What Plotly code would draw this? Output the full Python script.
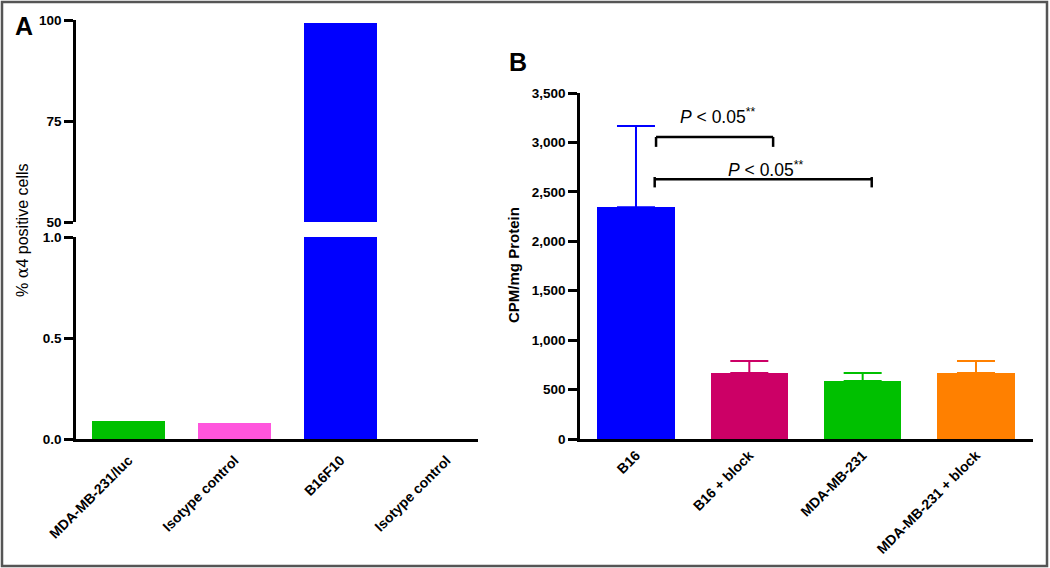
import plotly.graph_objects as go

# ---------------- data ----------------
a_categories = ["MDA-MB-231/luc", "Isotype control", "B16F10", "Isotype control "]
a_values = [0.09, 0.08, 99.2, 0.0]
a_colors = ["#00C000", "#FF55DD", "#0000FF", "#FFFFFF"]

b_categories = ["B16", "B16 + block", "MDA-MB-231", "MDA-MB-231 + block"]
b_values = [2345, 668, 587, 668]
b_errors = [820, 121, 81, 121]
b_colors = ["#0000FF", "#CC0066", "#00C000", "#FF8000"]

a_upper_ticks = [50, 75, 100]
a_lower_ticks = [0.0, 0.5, 1.0]
b_ticks = [0, 500, 1000, 1500, 2000, 2500, 3000, 3500]

W, H = 1050, 568
FONT = "Liberation Sans, Arial, sans-serif"

def px(v, total):
    return v / total

fig = go.Figure()

xa = list(range(len(a_categories)))
xb = list(range(len(b_categories)))

# Panel A lower (0-1)
fig.add_trace(go.Bar(x=xa, y=a_values, marker=dict(color=a_colors, line=dict(width=0)),
                     width=0.69, xaxis="x", yaxis="y", showlegend=False))
# Panel A upper (50-100)
fig.add_trace(go.Bar(x=xa, y=a_values, marker=dict(color=a_colors, line=dict(width=0)),
                     width=0.69, xaxis="x2", yaxis="y2", showlegend=False))
# Panel B
fig.add_trace(go.Bar(x=xb, y=b_values, marker=dict(color=b_colors, line=dict(width=0)),
                     width=0.68, xaxis="x3", yaxis="y3", showlegend=False))
for i, (v, e, c) in enumerate(zip(b_values, b_errors, b_colors)):
    fig.add_trace(go.Scatter(x=[xb[i]], y=[v], mode="markers", marker=dict(size=1, color=c, opacity=0),
                             error_y=dict(type="data", array=[e], arrayminus=[0], symmetric=False,
                                          color=c, thickness=2, width=19),
                             xaxis="x3", yaxis="y3", showlegend=False, hoverinfo="skip"))

tickfont = dict(family=FONT, size=13.5, color="black", weight="bold")
common_y = dict(showgrid=False, zeroline=False, showline=True, linecolor="black", linewidth=2.5,
                ticks="outside", ticklen=9, tickwidth=2.5, tickcolor="black", tickfont=tickfont,
                automargin=False)
common_x = dict(showgrid=False, zeroline=False, showline=True, linecolor="black", linewidth=2.5,
                ticks="", tickfont=dict(family=FONT, size=14, color="black", weight="bold"),
                tickangle=-45, tickmode="array", automargin=False)

fig.update_layout(
    width=W, height=H,
    margin=dict(l=0, r=0, t=0, b=0, autoexpand=False),
    paper_bgcolor="white", plot_bgcolor="rgba(0,0,0,0)",
    bargap=0,
    xaxis=dict(domain=[px(76, W), px(478, W)], range=[-0.495, 3.297], anchor="y",
               tickvals=xa, ticktext=[c.strip() for c in a_categories],
               ticklabelstandoff=5, **common_x),
    yaxis=dict(domain=[1 - px(439, H), 1 - px(237, H)], range=[0, 1.0], anchor="x",
               tickvals=a_lower_ticks, tickformat=".1f", **common_y),
    xaxis2=dict(domain=[px(76, W), px(478, W)], range=[-0.495, 3.297], anchor="y2", visible=False),
    yaxis2=dict(domain=[1 - px(222, H), 1 - px(20, H)], range=[50, 100], anchor="x2",
                tickvals=a_upper_ticks, **common_y),
    xaxis3=dict(domain=[px(580, W), px(1033, W)], range=[-0.494, 3.503], anchor="y3",
                tickvals=xb, ticktext=b_categories, **common_x),
    yaxis3=dict(domain=[1 - px(439, H), 1 - px(93, H)], range=[0, 3500], anchor="x3",
                tickvals=b_ticks, tickformat=",d", **common_y),
    separators=".,",
)

# significance brackets (panel B)
br = dict(color="black", width=2.5)
fig.add_shape(type="line", xref="x3", yref="y3", x0=0.177, x1=1.21, y0=3055, y1=3055, line=br)
fig.add_shape(type="line", xref="x3", yref="y3", x0=0.177, x1=0.177, y0=3055, y1=2955, line=br)
fig.add_shape(type="line", xref="x3", yref="y3", x0=1.21, x1=1.21, y0=3055, y1=2955, line=br)
fig.add_shape(type="line", xref="x3", yref="y3", x0=0.165, x1=2.08, y0=2627, y1=2627, line=br)
fig.add_shape(type="line", xref="x3", yref="y3", x0=0.165, x1=0.165, y0=2650, y1=2545, line=br)
fig.add_shape(type="line", xref="x3", yref="y3", x0=2.08, x1=2.08, y0=2650, y1=2545, line=br)

pfont = dict(family=FONT, size=17.5, color="black")
fig.add_annotation(xref="x3", yref="y3", x=0.72, y=3267, text="<i>P</i> < 0.05<sup>**</sup>",
                   showarrow=False, font=pfont)
fig.add_annotation(xref="x3", yref="y3", x=1.14, y=2731, text="<i>P</i> < 0.05<sup>**</sup>",
                   showarrow=False, font=pfont)

# axis titles
fig.add_annotation(xref="paper", yref="paper", x=px(22, W), y=1 - px(230, H),
                   xanchor="center", yanchor="middle",
                   text="% <span style='font-family:DejaVu Serif'>α</span>4 positive cells",
                   textangle=-90, showarrow=False, font=dict(family=FONT, size=16, color="black"))
fig.add_annotation(xref="paper", yref="paper", x=px(513, W), y=1 - px(265, H),
                   xanchor="center", yanchor="middle",
                   text="CPM/mg Protein", textangle=-90, showarrow=False,
                   font=dict(family=FONT, size=15, color="black", weight="bold"))

# panel letters
fig.add_annotation(xref="paper", yref="paper", x=px(24, W), y=1 - px(26, H), text="A",
                   xanchor="center", yanchor="middle",
                   showarrow=False, font=dict(family=FONT, size=25, color="black", weight="bold"))
fig.add_annotation(xref="paper", yref="paper", x=px(518, W), y=1 - px(62, H), text="B",
                   xanchor="center", yanchor="middle",
                   showarrow=False, font=dict(family=FONT, size=25, color="black", weight="bold"))

# outer frame
fig.add_shape(type="rect", xref="paper", yref="paper", x0=px(2, W), x1=px(1047, W),
              y0=1 - px(566, H), y1=1 - px(2, H), line=dict(color="#555555", width=2.5))

fig.write_html("out.html", config={"displayModeBar": False},
               post_script="document.body.style.margin='0';document.body.style.overflow='hidden';")
